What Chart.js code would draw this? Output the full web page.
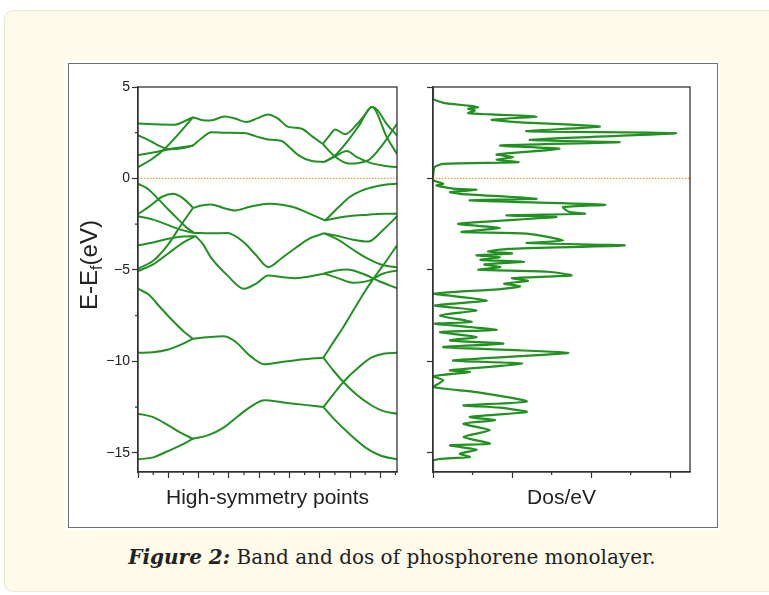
<!DOCTYPE html>
<html>
<head>
    <title>Band and dos of phosphorene monolayer</title>
    <script src="https://cdn.jsdelivr.net/npm/chart.js@4.4.1/dist/chart.umd.min.js"></script>
    <style>
        body { margin: 0; width: 769px; height: 595px; background: #fff; position: relative; overflow: hidden; font-family: "Liberation Sans", Arial, sans-serif; }
        .panel { position: absolute; left: 4px; top: 10px; width: 800px; height: 580px; background: #fffbea; border: 1.5px solid #ece8d6; border-radius: 9px; }
        .figure { position: absolute; left: 65px; top: 60px; width: 655px; height: 470px; background: #fff; }
        .frame { position: absolute; left: 68px; top: 63px; width: 648px; height: 463px; border: 1px solid #707070; }
        .chart-box { position: absolute; top: 65px; height: 460px; }
        #bandBox { left: 70px; width: 340px; }
        #dosBox { left: 410px; width: 300px; }
        .caption { position: absolute; left: 0; width: 784px; top: 545px; text-align: center; font-family: "DejaVu Serif", serif; font-size: 20px; color: #222; }
        .caption b { font-style: italic; }
    </style>
</head>
<body>
    <div class="panel"></div>
    <div class="figure"></div>
    <div class="frame"></div>
    <div class="chart-box" id="bandBox"><canvas id="bandChart"></canvas></div>
    <div class="chart-box" id="dosBox"><canvas id="dosChart"></canvas></div>
    <div class="caption"><b>Figure 2:</b> Band and dos of phosphorene monolayer.</div>

    <script>
        // axis ticks
        const energyTicks = [5, 0, -5, -10, -15];
        const energyMinor = [2.5, -2.5, -7.5, -12.5];
        const kTicks = [0, 1, 2, 3, 4, 5, 6, 7, 8];
        const kMinor = [0.5, 1.5, 2.5, 3.5, 4.5, 5.5, 6.5, 7.5, 8.5];
        const dosTicks = [0, 2, 4, 6];
        const dosMinor = [1, 3, 5];

        // band segments, [k, E]
        const cbTopLeft = [[0, 3.0], [0.5, 2.96], [1.2, 2.93], [1.5, 3.1], [1.82, 3.35]];
        const cbSteepLeft = [[0, 0.62], [0.45, 1.05], [0.9, 1.65], [1.35, 2.45], [1.82, 3.35]];
        const cbDownLeft = [[0, 2.35], [0.35, 2.1], [0.7, 1.78], [1.05, 1.6], [1.45, 1.65], [1.82, 1.8]];
        const cbFlatLeft = [[0, 1.28], [0.5, 1.42], [1.04, 1.6], [1.45, 1.7], [1.82, 1.8]];
        const cbUpper = [[1.82, 3.35], [2.1, 3.2], [2.39, 3.17], [2.86, 3.39], [3.2, 3.28], [3.58, 3.08], [3.95, 3.3], [4.3, 3.5], [4.6, 3.3], [4.96, 2.82], [5.4, 2.72], [5.75, 2.3], [6.1, 1.88]];
        const cbLower = [[1.82, 1.8], [2.1, 2.2], [2.42, 2.53], [2.9, 2.5], [3.5, 2.48], [3.9, 2.3], [4.3, 2.13], [4.74, 2.05], [5.0, 1.7], [5.3, 1.26], [5.74, 0.95], [6.15, 0.9]];
        const cbPeakRight = [[6.1, 1.88], [6.3, 2.3], [6.51, 2.68], [6.84, 2.42], [7.22, 2.95], [7.5, 3.5], [7.72, 3.9], [7.9, 3.75], [8.2, 3.0], [8.55, 2.35]];
        const cbValleyRight = [[6.1, 1.88], [6.5, 1.2], [6.95, 0.82], [7.3, 0.85], [7.65, 1.05], [8.1, 1.9], [8.55, 2.99]];
        const cbBumpRight = [[6.15, 0.9], [6.5, 1.2], [6.89, 1.5], [7.23, 1.16], [7.67, 0.85], [8.1, 0.7], [8.55, 0.62]];
        const cbClimbRight = [[6.15, 0.9], [6.5, 1.25], [6.9, 2.0], [7.3, 2.9], [7.72, 3.9], [7.85, 3.7], [8.2, 2.3], [8.55, 1.34]];

        const vbTopLeft = [[0, -0.29], [0.35, -0.6], [0.71, -1.2], [1.0, -1.7], [1.35, -2.28], [1.6, -2.68], [1.85, -2.98]];
        const vbHumpLeft = [[0, -1.96], [0.4, -1.5], [0.8, -1.0], [1.15, -0.84], [1.5, -1.1], [1.82, -1.6]];
        const vbDownLeft = [[0, -2.07], [0.5, -2.25], [1.0, -2.55], [1.4, -2.8], [1.85, -2.98]];
        const vbFlatLeft = [[0, -3.66], [0.5, -3.5], [1.0, -3.3], [1.5, -3.17], [1.9, -3.15]];
        const vbSteepLeft = [[0, -4.93], [0.5, -4.5], [1.0, -3.6], [1.4, -2.6], [1.82, -1.6]];
        const vbRiseLeft = [[0, -5.06], [0.5, -4.7], [1.0, -4.1], [1.5, -3.5], [1.9, -3.15]];
        const vbA = [[1.82, -1.62], [2.1, -1.48], [2.42, -1.42], [2.8, -1.6], [3.2, -1.75], [3.7, -1.55], [4.3, -1.38], [4.8, -1.45], [5.2, -1.6], [5.7, -1.95], [6.18, -2.3]];
        const vbB = [[1.85, -2.98], [2.4, -3.0], [2.95, -2.98], [3.5, -3.5], [3.9, -4.2], [4.3, -4.85], [4.75, -4.35], [5.2, -3.8], [5.7, -3.25], [6.15, -3.0]];
        const vbC = [[1.9, -3.15], [2.15, -3.6], [2.4, -4.3], [2.95, -5.3], [3.5, -6.03], [3.9, -5.75], [4.3, -5.3], [4.8, -5.4], [5.2, -5.45], [5.7, -5.35], [6.15, -5.2]];
        const vbARise = [[6.18, -2.3], [6.6, -1.6], [7.0, -1.0], [7.4, -0.65], [7.8, -0.45], [8.2, -0.33], [8.55, -0.29]];
        const vbAFlat = [[6.18, -2.3], [6.6, -2.15], [7.0, -2.05], [7.6, -1.98], [8.1, -1.93], [8.55, -1.93]];
        const vbBRise = [[6.15, -3.0], [6.6, -3.15], [7.1, -3.35], [7.6, -3.45], [8.1, -2.8], [8.55, -2.07]];
        const vbBFall = [[6.15, -3.0], [6.6, -3.35], [7.1, -3.9], [7.6, -4.4], [8.1, -4.75], [8.55, -4.85]];
        const vbCUp = [[6.15, -5.2], [6.5, -5.05], [6.9, -4.98], [7.4, -5.2], [8.0, -5.65], [8.55, -6.0]];
        const vbCDown = [[6.15, -5.2], [6.6, -5.45], [7.1, -5.7], [7.6, -5.6], [8.1, -5.2], [8.55, -5.03]];
        const vbSteepRight = [[6.12, -9.8], [6.45, -8.95], [6.78, -8.12], [7.15, -7.1], [7.5, -6.15], [7.85, -5.3], [8.2, -4.5], [8.55, -3.66]];

        const deepFallLeft = [[0, -6.03], [0.35, -6.35], [0.71, -7.0], [1.1, -7.7], [1.5, -8.35], [1.81, -8.76]];
        const deepRiseLeft = [[0, -9.53], [0.5, -9.5], [1.0, -9.35], [1.4, -9.1], [1.81, -8.76]];
        const deepMid = [[1.81, -8.76], [2.3, -8.68], [2.82, -8.63], [3.2, -8.9], [3.7, -9.7], [4.18, -10.16], [4.7, -10.05], [5.4, -9.9], [6.12, -9.8]];
        const deepFallRight = [[6.12, -9.8], [6.45, -10.5], [6.78, -11.13], [7.2, -11.8], [7.7, -12.4], [8.1, -12.72], [8.55, -12.86]];
        const lowFallLeft = [[0, -12.86], [0.5, -13.05], [1.0, -13.5], [1.4, -13.9], [1.81, -14.23]];
        const lowRiseLeft = [[0, -15.36], [0.5, -15.25], [1.0, -14.9], [1.4, -14.6], [1.81, -14.23]];
        const lowMid = [[1.81, -14.23], [2.3, -14.05], [2.8, -13.65], [3.3, -13.0], [3.7, -12.5], [4.18, -12.13], [4.8, -12.25], [5.5, -12.38], [6.12, -12.5]];
        const lowRiseRight = [[6.12, -12.5], [6.45, -11.8], [6.78, -11.13], [7.2, -10.45], [7.7, -9.8], [8.1, -9.58], [8.55, -9.53]];
        const lowFallRight = [[6.12, -12.5], [6.5, -13.2], [7.0, -14.0], [7.5, -14.7], [8.0, -15.15], [8.55, -15.36]];

        const bands = [cbTopLeft, cbSteepLeft, cbDownLeft, cbFlatLeft, cbUpper, cbLower, cbPeakRight, cbValleyRight, cbBumpRight, cbClimbRight,
            vbTopLeft, vbHumpLeft, vbDownLeft, vbFlatLeft, vbSteepLeft, vbRiseLeft, vbA, vbB, vbC, vbARise, vbAFlat, vbBRise, vbBFall, vbCUp, vbCDown, vbSteepRight,
            deepFallLeft, deepRiseLeft, deepMid, deepFallRight, lowFallLeft, lowRiseLeft, lowMid, lowRiseRight, lowFallRight];

        // density of states, energy (eV) and value
        const dosEnergy = [5.0, 4.35, 4.3, 4.12, 3.99, 3.9, 3.81, 3.72, 3.57, 3.5, 3.39, 3.21, 3.08, 2.84, 2.58, 2.48, 2.11, 1.98, 1.8, 1.62, 1.31, 1.16, 1.02, 0.89, 0.8, 0.62, 0.07,
            -0.1, -0.29, -0.38, -0.56, -0.62, -0.75, -0.84, -1.11, -1.2, -1.44, -1.57, -1.84, -1.93, -2.02, -2.11, -2.48, -2.7, -2.93, -3.02, -3.39, -3.53, -3.66, -3.85, -4.0, -4.1, -4.2, -4.3, -4.45, -4.55, -4.7, -4.85, -4.99, -5.1, -5.3, -5.45, -5.6, -5.75, -5.9, -6.05, -6.2,
            -6.3, -6.67, -6.94, -7.21, -7.49, -7.85, -7.94, -8.27, -8.4, -8.67, -8.85, -9.03, -9.22, -9.53, -9.95, -10.13, -10.49, -10.58, -10.82, -11.04, -11.4, -11.68, -12.19, -12.41, -12.53, -12.77, -13.04, -13.22, -13.41, -13.77, -14.13, -14.5, -14.59, -14.83, -15.05, -15.23, -15.41, -16.05];
        const dosValue = [0, 0, 0.04, 0.3, 0.85, 1.14, 0.89, 1.06, 0.89, 1.44, 2.62, 1.48, 2.11, 4.22, 2.36, 6.15, 2.45, 4.72, 1.7, 3.2, 1.61, 2.03, 1.61, 2.16, 0.27, 0.04, 0,
            0, 0.26, 0.09, 0.51, 1.1, 0.43, 0.68, 2.62, 0.93, 4.35, 3.29, 3.46, 3.84, 1.86, 3.12, 0.64, 1.69, 0.72, 2.37, 3.29, 2.37, 4.85, 1.9, 1.39, 2.0, 1.1, 1.69, 1.2, 2.3, 1.3, 1.7, 1.15, 2.9, 3.5, 2.0, 2.4, 1.8, 2.2, 1.7, 0.6,
            0, 1.36, 0.05, 1.1, 0.18, 0.98, 0.05, 1.61, 0.18, 1.1, 0.43, 1.78, 0.26, 3.42, 0.51, 2.26, 0.43, 0.93, 0, 0.26, 0, 1.1, 2.37, 0.77, 1.69, 2.37, 0.93, 1.57, 0.77, 1.44, 0.77, 1.44, 0.43, 1.1, 0.68, 0.93, 0, 0];

        const lineGreen = '#229022';
        const axisColor = '#333';
        const fermiColor = '#f0a030';
        const fontFamily = '"Liberation Sans", Arial, sans-serif';

        // closes the box, draws short minor ticks and the subscripted y title
        const framePlugin = {
            id: 'frame',
            afterDraw(chart, args, opts) {
                const { ctx, chartArea: a, scales: { x, y } } = chart;
                ctx.save();
                ctx.strokeStyle = axisColor;
                ctx.lineWidth = 1.3;
                ctx.strokeRect(a.left, a.top, a.width, a.height);
                ctx.lineWidth = 1.2;
                ctx.beginPath();
                (opts.xMinor || []).forEach(v => {
                    const px = x.getPixelForValue(v);
                    ctx.moveTo(px, a.bottom);
                    ctx.lineTo(px, a.bottom + 3);
                });
                (opts.yMinor || []).forEach(v => {
                    const py = y.getPixelForValue(v);
                    ctx.moveTo(a.left, py);
                    ctx.lineTo(a.left - 3, py);
                });
                ctx.stroke();
                if (opts.yTitle) {
                    const t = opts.yTitle;
                    ctx.translate(t.x, t.y);
                    ctx.rotate(-Math.PI / 2);
                    ctx.fillStyle = '#222';
                    ctx.textBaseline = 'alphabetic';
                    const big = '24px ' + fontFamily, small = '16px ' + fontFamily;
                    ctx.font = big;
                    const w1 = ctx.measureText(t.main).width, w3 = ctx.measureText(t.unit).width;
                    ctx.font = small;
                    const w2 = ctx.measureText(t.sub).width;
                    let px = -(w1 + w2 + w3) / 2;
                    ctx.font = big;
                    ctx.fillText(t.main, px, 8);
                    px += w1;
                    ctx.font = small;
                    ctx.fillText(t.sub, px, 13);
                    px += w2;
                    ctx.font = big;
                    ctx.fillText(t.unit, px, 8);
                }
                ctx.restore();
            }
        };

        function toPoints(arr) {
            return arr.map(p => ({ x: p[0], y: p[1] }));
        }

        function lineSet(points, extra) {
            return Object.assign({
                data: points,
                showLine: true,
                borderColor: lineGreen,
                borderWidth: 2,
                pointRadius: 0,
                fill: false
            }, extra || {});
        }

        function fermiSet(maxX) {
            return lineSet([{ x: 0, y: 0 }, { x: maxX, y: 0 }], { borderColor: fermiColor, borderWidth: 1.3, borderDash: [1.5, 1.5] });
        }

        function energyAxis(width, showLabels) {
            return {
                type: 'linear',
                min: -16.05,
                max: 5,
                afterBuildTicks: s => { s.ticks = energyTicks.map(v => ({ value: v })); },
                afterFit: s => { s.width = width; },
                ticks: {
                    color: '#222',
                    padding: 2,
                    font: { family: fontFamily, size: 14 },
                    callback: v => showLabels ? (v < 0 ? '\u2212' + Math.abs(v) : String(v)) : ''
                },
                grid: { drawOnChartArea: false, tickLength: 6, tickColor: axisColor, tickWidth: 1.2 },
                border: { color: axisColor, width: 1.3 }
            };
        }

        function bottomAxis(max, tickValues, title) {
            return {
                type: 'linear',
                min: 0,
                max: max,
                afterBuildTicks: s => { s.ticks = tickValues.map(v => ({ value: v })); },
                afterFit: s => { s.height = 53; },
                ticks: { callback: () => '' },
                grid: { drawOnChartArea: false, tickLength: 6, tickColor: axisColor, tickWidth: 1.2 },
                border: { color: axisColor, width: 1.3 },
                title: { display: true, text: title, color: '#222', font: { family: fontFamily, size: 21 }, padding: { top: 0, bottom: 14 } }
            };
        }

        const bandSets = [fermiSet(8.55)].concat(bands.map(b => lineSet(toPoints(b), { cubicInterpolationMode: 'monotone' })));

        new Chart(document.getElementById('bandChart'), {
            type: 'scatter',
            data: { datasets: bandSets },
            options: {
                responsive: true,
                maintainAspectRatio: false,
                animation: false,
                layout: { padding: { top: 22, right: 13, left: 0, bottom: 0 } },
                scales: {
                    x: bottomAxis(8.55, kTicks, 'High-symmetry points'),
                    y: energyAxis(68, true)
                },
                plugins: {
                    legend: { display: false },
                    tooltip: { enabled: false },
                    frame: { xMinor: kMinor, yMinor: energyMinor, yTitle: { x: 19, y: 200, main: 'E-E', sub: 'f', unit: '(eV)' } }
                }
            },
            plugins: [framePlugin]
        });

        const dosPoints = dosEnergy.map((e, i) => ({ x: dosValue[i], y: e }));

        new Chart(document.getElementById('dosChart'), {
            type: 'scatter',
            data: { datasets: [fermiSet(6.5), lineSet(dosPoints, { borderWidth: 2.2, tension: 0.2 })] },
            options: {
                responsive: true,
                maintainAspectRatio: false,
                animation: false,
                layout: { padding: { top: 22, right: 20, left: 0, bottom: 0 } },
                scales: {
                    x: bottomAxis(6.5, dosTicks, 'Dos/eV'),
                    y: energyAxis(23, false)
                },
                plugins: {
                    legend: { display: false },
                    tooltip: { enabled: false },
                    frame: { xMinor: dosMinor }
                }
            },
            plugins: [framePlugin]
        });
    </script>
</body>
</html>
